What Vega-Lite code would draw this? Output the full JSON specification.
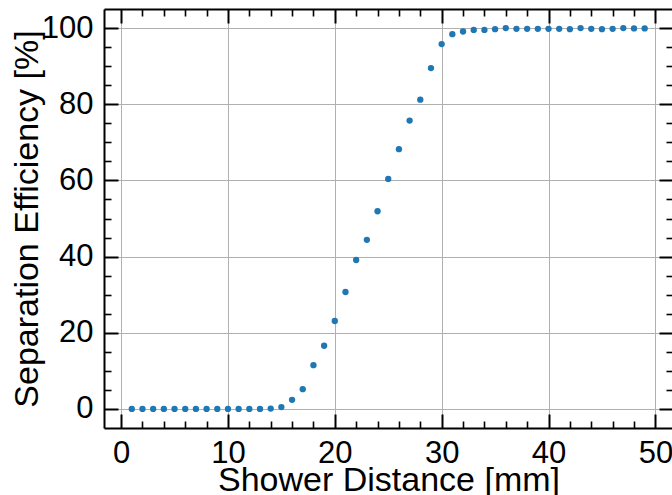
{
  "$schema": "https://vega.github.io/schema/vega-lite/v6.json",
  "width": 569,
  "height": 419,
  "autosize": "none",
  "padding": {"left": 104, "top": 9, "right": 0, "bottom": 67},
  "background": "white",
  "config": {
    "view": {"stroke": null},
    "font": "Liberation Sans",
    "axis": {"labelFont": "Liberation Sans", "titleFont": "Liberation Sans", "labelColor": "black", "titleColor": "black", "titleFontWeight": "normal", "domainColor": "black", "tickColor": "black"}
  },
  "data": {"values": [
    {"d": 1, "eff": 0}, {"d": 2, "eff": 0}, {"d": 3, "eff": 0}, {"d": 4, "eff": 0}, {"d": 5, "eff": 0},
    {"d": 6, "eff": 0}, {"d": 7, "eff": 0}, {"d": 8, "eff": 0}, {"d": 9, "eff": 0}, {"d": 10, "eff": 0},
    {"d": 11, "eff": 0}, {"d": 12, "eff": 0}, {"d": 13, "eff": 0}, {"d": 14, "eff": 0.1}, {"d": 15, "eff": 0.5},
    {"d": 16, "eff": 2.4}, {"d": 17, "eff": 5.2}, {"d": 18, "eff": 11.5}, {"d": 19, "eff": 16.6}, {"d": 20, "eff": 23.1},
    {"d": 21, "eff": 30.7}, {"d": 22, "eff": 39.1}, {"d": 23, "eff": 44.4}, {"d": 24, "eff": 51.9}, {"d": 25, "eff": 60.4},
    {"d": 26, "eff": 68.2}, {"d": 27, "eff": 75.7}, {"d": 28, "eff": 81.2}, {"d": 29, "eff": 89.5}, {"d": 30, "eff": 95.8},
    {"d": 31, "eff": 98.4}, {"d": 32, "eff": 99.1}, {"d": 33, "eff": 99.5}, {"d": 34, "eff": 99.5}, {"d": 35, "eff": 99.7},
    {"d": 36, "eff": 100}, {"d": 37, "eff": 99.8}, {"d": 38, "eff": 99.8}, {"d": 39, "eff": 99.8}, {"d": 40, "eff": 99.8},
    {"d": 41, "eff": 99.8}, {"d": 42, "eff": 99.7}, {"d": 43, "eff": 100}, {"d": 44, "eff": 99.8}, {"d": 45, "eff": 99.7},
    {"d": 46, "eff": 99.8}, {"d": 47, "eff": 100}, {"d": 48, "eff": 99.9}, {"d": 49, "eff": 99.9}
  ]},
  "resolve": {"axis": {"x": "independent", "y": "independent"}},
  "layer": [
    {
      "mark": {"type": "point", "filled": true, "opacity": 0},
      "encoding": {
        "x": {"field": "d", "type": "quantitative", "scale": {"domain": [-1.6, 51.65], "nice": false, "zero": false},
          "axis": {"orient": "top", "values": [0, 10, 20, 30, 40, 50], "labels": false, "title": null, "grid": false, "domain": true, "domainWidth": 2, "tickSize": -14, "tickWidth": 2}},
        "y": {"field": "eff", "type": "quantitative", "scale": {"domain": [-5, 105], "nice": false, "zero": false},
          "axis": {"orient": "right", "values": [0, 20, 40, 60, 80, 100], "labels": false, "title": null, "grid": false, "domain": true, "domainWidth": 2, "tickSize": -14, "tickWidth": 2}}
      }
    },
    {
      "mark": {"type": "point", "filled": true, "opacity": 0},
      "encoding": {
        "x": {"field": "d", "type": "quantitative",
          "axis": {"orient": "top", "values": [2, 4, 6, 8, 12, 14, 16, 18, 22, 24, 26, 28, 32, 34, 36, 38, 42, 44, 46, 48], "labels": false, "title": null, "grid": false, "domain": false, "tickSize": -7, "tickWidth": 1.6}},
        "y": {"field": "eff", "type": "quantitative",
          "axis": {"orient": "right", "values": [5, 10, 15, 25, 30, 35, 45, 50, 55, 65, 70, 75, 85, 90, 95], "labels": false, "title": null, "grid": false, "domain": false, "tickSize": -7, "tickWidth": 1.6}}
      }
    },
    {
      "mark": {"type": "point", "filled": true, "opacity": 0},
      "encoding": {
        "x": {"field": "d", "type": "quantitative",
          "axis": {"orient": "bottom", "values": [2, 4, 6, 8, 12, 14, 16, 18, 22, 24, 26, 28, 32, 34, 36, 38, 42, 44, 46, 48], "labels": false, "title": null, "grid": false, "domain": false, "tickSize": -7, "tickWidth": 1.6}},
        "y": {"field": "eff", "type": "quantitative",
          "axis": {"orient": "left", "values": [5, 10, 15, 25, 30, 35, 45, 50, 55, 65, 70, 75, 85, 90, 95], "labels": false, "title": null, "grid": false, "domain": false, "tickSize": -7, "tickWidth": 1.6}}
      }
    },
    {
      "mark": {"type": "point", "filled": true, "size": 40, "color": "#1f77b4", "opacity": 1, "strokeWidth": 0},
      "encoding": {
        "x": {"field": "d", "type": "quantitative",
          "axis": {"orient": "bottom", "values": [0, 10, 20, 30, 40, 50], "title": "Shower Distance [mm]", "titleFontSize": 34, "titleBaseline": "alphabetic", "titleY": 62,
            "labelFontSize": 31, "labelPadding": 24, "grid": true, "gridColor": "#b0b0b0", "gridWidth": 1, "domain": true, "domainWidth": 2, "tickSize": -14, "tickWidth": 2}},
        "y": {"field": "eff", "type": "quantitative",
          "axis": {"orient": "left", "values": [0, 20, 40, 60, 80, 100], "title": "Separation Efficiency [%]", "titleFontSize": 34, "titleBaseline": "alphabetic", "titleX": -67,
            "labelFontSize": 31, "labelPadding": 25, "grid": true, "gridColor": "#b0b0b0", "gridWidth": 1, "domain": true, "domainWidth": 2, "tickSize": -14, "tickWidth": 2}}
      }
    }
  ]
}
